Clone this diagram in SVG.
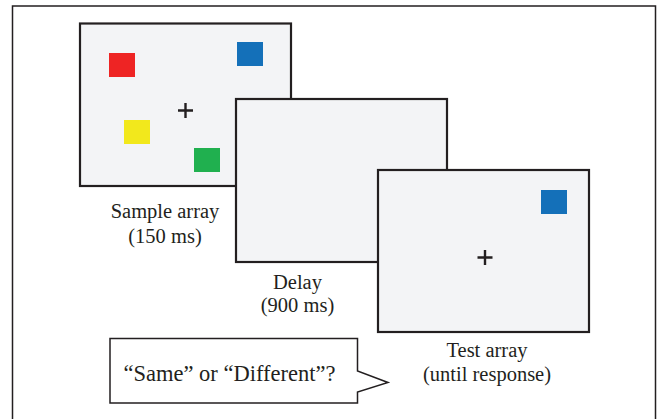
<svg xmlns="http://www.w3.org/2000/svg" width="657" height="419" viewBox="0 0 657 419">
<style>
.frame{fill:#f3f4f6;stroke:#231f20;stroke-width:2.2}
.lbl{font-family:"Liberation Serif","Times New Roman",serif;font-size:20.5px;fill:#231f20;text-anchor:middle}
.plus{stroke:#231f20;stroke-width:2.4;fill:none}
</style>
<rect x="0" y="0" width="657" height="419" fill="#ffffff"/>
<rect id="outer" x="12.5" y="6" width="643" height="420" fill="#ffffff" stroke="#231f20" stroke-width="1.5"/>
<g id="sample">
<rect class="frame" x="80" y="23.5" width="211" height="162.5"/>
<rect x="109" y="53" width="26" height="24" fill="#ee2424"/>
<rect x="237" y="42" width="26" height="24" fill="#1470b9"/>
<rect x="124" y="120" width="26" height="24" fill="#f2e81c"/>
<rect x="194" y="148" width="26" height="24" fill="#20b04f"/>
<path class="plus" d="M178 110.5h15M185.5 103v15"/>
<text class="lbl" x="165" y="218">Sample array</text>
<text class="lbl" x="165" y="243">(150 ms)</text>
</g>
<g id="delay">
<rect class="frame" x="236" y="99" width="211" height="163"/>
<text class="lbl" x="297.5" y="289">Delay</text>
<text class="lbl" x="297.5" y="312">(900 ms)</text>
</g>
<g id="test">
<rect class="frame" x="378" y="170" width="211" height="162" stroke-width="2.5"/>
<rect x="541" y="190" width="26" height="24" fill="#1470b9"/>
<path class="plus" d="M477.5 257.5h15M485 250v15"/>
<text class="lbl" x="487" y="357">Test array</text>
<text class="lbl" x="487" y="381">(until response)</text>
</g>
<g id="bubble">
<path d="M110 338.5H357.5V371L388 382.5L357.5 392V403H110Z" fill="#ffffff" stroke="#231f20" stroke-width="1.5"/>
<text class="lbl" x="229.5" y="381" style="font-size:22.5px">“Same” or “Different”?</text>
</g>
<g id="connectors"></g>
</svg>
